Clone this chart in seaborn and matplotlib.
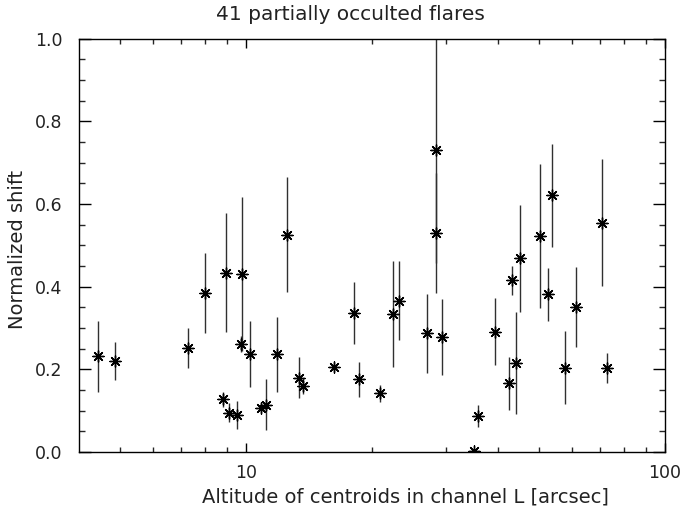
import numpy as np
import matplotlib
matplotlib.use("Agg")
import matplotlib.pyplot as plt
from matplotlib.ticker import FixedLocator, MultipleLocator, NullFormatter, FixedFormatter
import seaborn as sns
import pandas as pd

# Centroid altitude (arcsec), normalized shift and its 1-sigma uncertainty
altitude = [4.44, 4.87, 7.29, 8.01, 8.96, 8.83, 9.12, 9.53, 9.80, 9.74,
            10.22, 10.86, 11.16, 11.86, 12.57, 13.40, 13.70, 16.22, 18.13, 18.63,
            20.87, 22.41, 23.26, 27.02, 28.35, 28.44, 29.35, 35.0, 35.89, 39.4,
            42.46, 43.25, 44.05, 45.03, 50.44, 52.6, 53.78, 57.88, 61.36, 70.75,
            72.88]
shift = [0.231, 0.220, 0.252, 0.384, 0.433, 0.128, 0.095, 0.090, 0.430, 0.261,
         0.236, 0.107, 0.114, 0.236, 0.525, 0.180, 0.160, 0.206, 0.337, 0.176,
         0.142, 0.333, 0.366, 0.287, 0.731, 0.529, 0.279, 0.002, 0.087, 0.291,
         0.166, 0.415, 0.2145, 0.468, 0.522, 0.381, 0.621, 0.204, 0.351, 0.555,
         0.204]
shift_err = [0.087, 0.046, 0.048, 0.097, 0.144, 0.018, 0.023, 0.034, 0.186, 0.020,
             0.080, 0.010, 0.062, 0.091, 0.139, 0.050, 0.020, 0.010, 0.075, 0.042,
             0.020, 0.128, 0.096, 0.096, 0.275, 0.145, 0.092, 0.0, 0.026, 0.081,
             0.064, 0.035, 0.123, 0.130, 0.174, 0.063, 0.125, 0.089, 0.096, 0.153,
             0.036]

x_major = [10, 100]
x_major_labels = ["10", "100"]
y_major = [0.0, 0.2, 0.4, 0.6, 0.8, 1.0]
y_major_labels = ["0.0", "0.2", "0.4", "0.6", "0.8", "1.0"]

df = pd.DataFrame({"altitude": altitude, "shift": shift, "err": shift_err})

sns.set_theme(style="white")
plt.rcParams["font.family"] = ["DejaVu Sans"]

W, H = 684, 515
fig = plt.figure(figsize=(W / 100, H / 100), dpi=100)
ax = fig.add_axes([79 / W, 1 - 452 / H, (665 - 79) / W, (452 - 38.5) / H])

ax.errorbar(df["altitude"], df["shift"], yerr=df["err"], fmt="none",
            ecolor="#303030", elinewidth=1.0, capsize=0, zorder=2)
sns.scatterplot(data=df, x="altitude", y="shift", marker=(8, 2, 0), s=64,
                color="black", linewidth=1.0, ax=ax, zorder=3, legend=False)

ax.set_xscale("log")
ax.set_xlim(4, 100)
ax.set_ylim(0, 1.0)

ax.xaxis.set_major_locator(FixedLocator(x_major))
ax.xaxis.set_major_formatter(FixedFormatter(x_major_labels))
ax.xaxis.set_minor_locator(FixedLocator([5, 6, 7, 8, 9, 20, 30, 40, 50, 60, 70, 80, 90]))
ax.xaxis.set_minor_formatter(NullFormatter())
ax.yaxis.set_major_locator(FixedLocator(y_major))
ax.yaxis.set_major_formatter(FixedFormatter(y_major_labels))
ax.yaxis.set_minor_locator(MultipleLocator(0.05))

for side in ["left", "right", "top", "bottom"]:
    ax.spines[side].set_visible(True)
    ax.spines[side].set_color("black")
    ax.spines[side].set_linewidth(1.0)

ax.tick_params(axis="x", which="major", direction="in", length=6.5, width=1,
               top=True, bottom=True, labelsize=12.5, pad=9, colors="black",
               labelcolor="#222222")
ax.tick_params(axis="x", which="minor", direction="in", length=3.5, width=1,
               top=True, bottom=True)
ax.tick_params(axis="y", which="major", direction="in", length=8.5, width=1,
               left=True, right=True, labelsize=12.5, pad=12, colors="black",
               labelcolor="#222222")
ax.tick_params(axis="y", which="minor", direction="in", length=4.3, width=1,
               left=True, right=True)
ax.set_xlabel("")
ax.set_ylabel("")

# Axis titles and plot title positioned in figure pixels
fig.text(405 / W, 1 - 497 / H, "Altitude of centroids in channel L [arcsec]",
         fontsize=14, color="#222222", ha="center", va="center")
fig.text(18 / W, 1 - 249 / H, "Normalized shift", fontsize=14, color="#222222",
         ha="center", va="center", rotation=90)
fig.text(350 / W, 1 - 15 / H, "41 partially occulted flares", fontsize=14.5,
         color="#222222", ha="center", va="center")

fig.savefig("out.png", dpi=100)
